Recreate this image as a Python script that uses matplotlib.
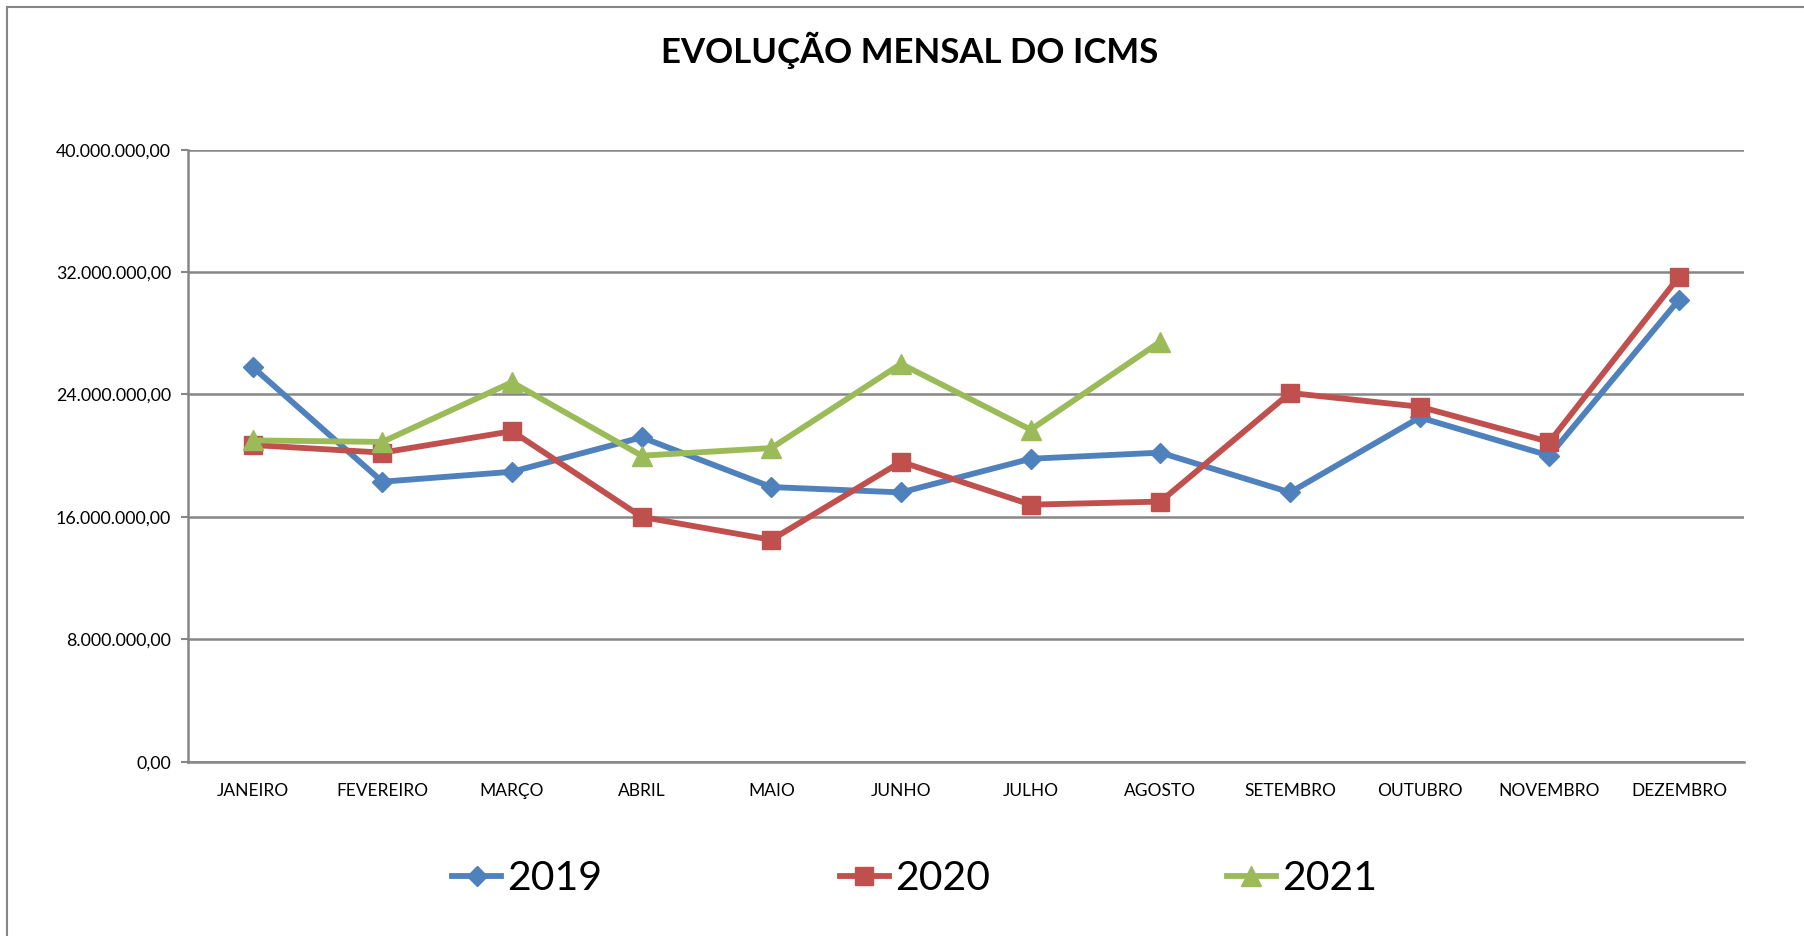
import matplotlib
matplotlib.use('Agg')
import matplotlib.pyplot as plt
from matplotlib.lines import Line2D
from matplotlib.ticker import FuncFormatter

plt.rcParams['font.family'] = ['Lato', 'DejaVu Sans']

# dados (milhões de R$)
meses = ['JANEIRO', 'FEVEREIRO', 'MARÇO', 'ABRIL', 'MAIO', 'JUNHO',
         'JULHO', 'AGOSTO', 'SETEMBRO', 'OUTUBRO', 'NOVEMBRO', 'DEZEMBRO']
icms_2019 = [25.8, 18.3, 18.95, 21.2, 17.95, 17.6, 19.8, 20.2, 17.6, 22.5, 20.0, 30.2]
icms_2020 = [20.7, 20.2, 21.6, 16.0, 14.5, 19.6, 16.8, 17.0, 24.1, 23.2, 20.9, 31.7]
icms_2021 = [21.0, 20.9, 24.8, 20.0, 20.5, 26.0, 21.7, 27.45]

cor_2019 = '#4F81BD'
cor_2020 = '#C0504D'
cor_2021 = '#9BBB59'
cinza = '#868686'

fig = plt.figure(figsize=(18.04, 9.36), dpi=100)
ax = fig.add_axes([0.1041, 0.1862, 0.8626, 0.6539])

x = list(range(len(meses)))
ax.plot(x, [v * 1e6 for v in icms_2019], color=cor_2019, lw=4.2,
        marker='D', markersize=10.5, label='2019')
ax.plot(x, [v * 1e6 for v in icms_2020], color=cor_2020, lw=4.2,
        marker='s', markersize=13, label='2020')
ax.plot(x[:len(icms_2021)], [v * 1e6 for v in icms_2021], color=cor_2021, lw=4.2,
        marker='^', markersize=14, label='2021')

ax.set_xlim(-0.5, len(meses) - 0.5)
ax.set_ylim(0, 40e6)
ax.set_yticks([0, 8e6, 16e6, 24e6, 32e6, 40e6])
ax.yaxis.set_major_formatter(FuncFormatter(
    lambda v, p: f'{v:,.2f}'.replace(',', 'X').replace('.', ',').replace('X', '.')))
ax.set_xticks(x)
ax.set_xticklabels(meses)
ax.tick_params(axis='x', length=0, pad=15, labelsize=12.5)
ax.tick_params(axis='y', length=5, width=1.5, color=cinza, pad=7, labelsize=12.8)
ax.grid(axis='y', color=cinza, lw=1.8)
ax.set_axisbelow(True)
for lado in ['top', 'right']:
    ax.spines[lado].set_visible(False)
for lado in ['left', 'bottom']:
    ax.spines[lado].set_color(cinza)
    ax.spines[lado].set_linewidth(1.8)

fig.text(0.5044, 0.946, 'EVOLUÇÃO MENSAL DO ICMS', ha='center', va='center',
         fontsize=25, fontweight='bold')

fig.legend(loc='center', bbox_to_anchor=(0.507, 0.061), ncol=3, frameon=False,
           fontsize=29.5, handlelength=1.2, handletextpad=0.15, columnspacing=5.78)

# moldura do gráfico
fig.add_artist(Line2D([7 / 1804, 7 / 1804], [0, 1 - 7 / 936], color=cinza, lw=1.5))
fig.add_artist(Line2D([7 / 1804, 1], [1 - 7 / 936, 1 - 7 / 936], color=cinza, lw=1.5))

fig.savefig('out.png', dpi=100)
